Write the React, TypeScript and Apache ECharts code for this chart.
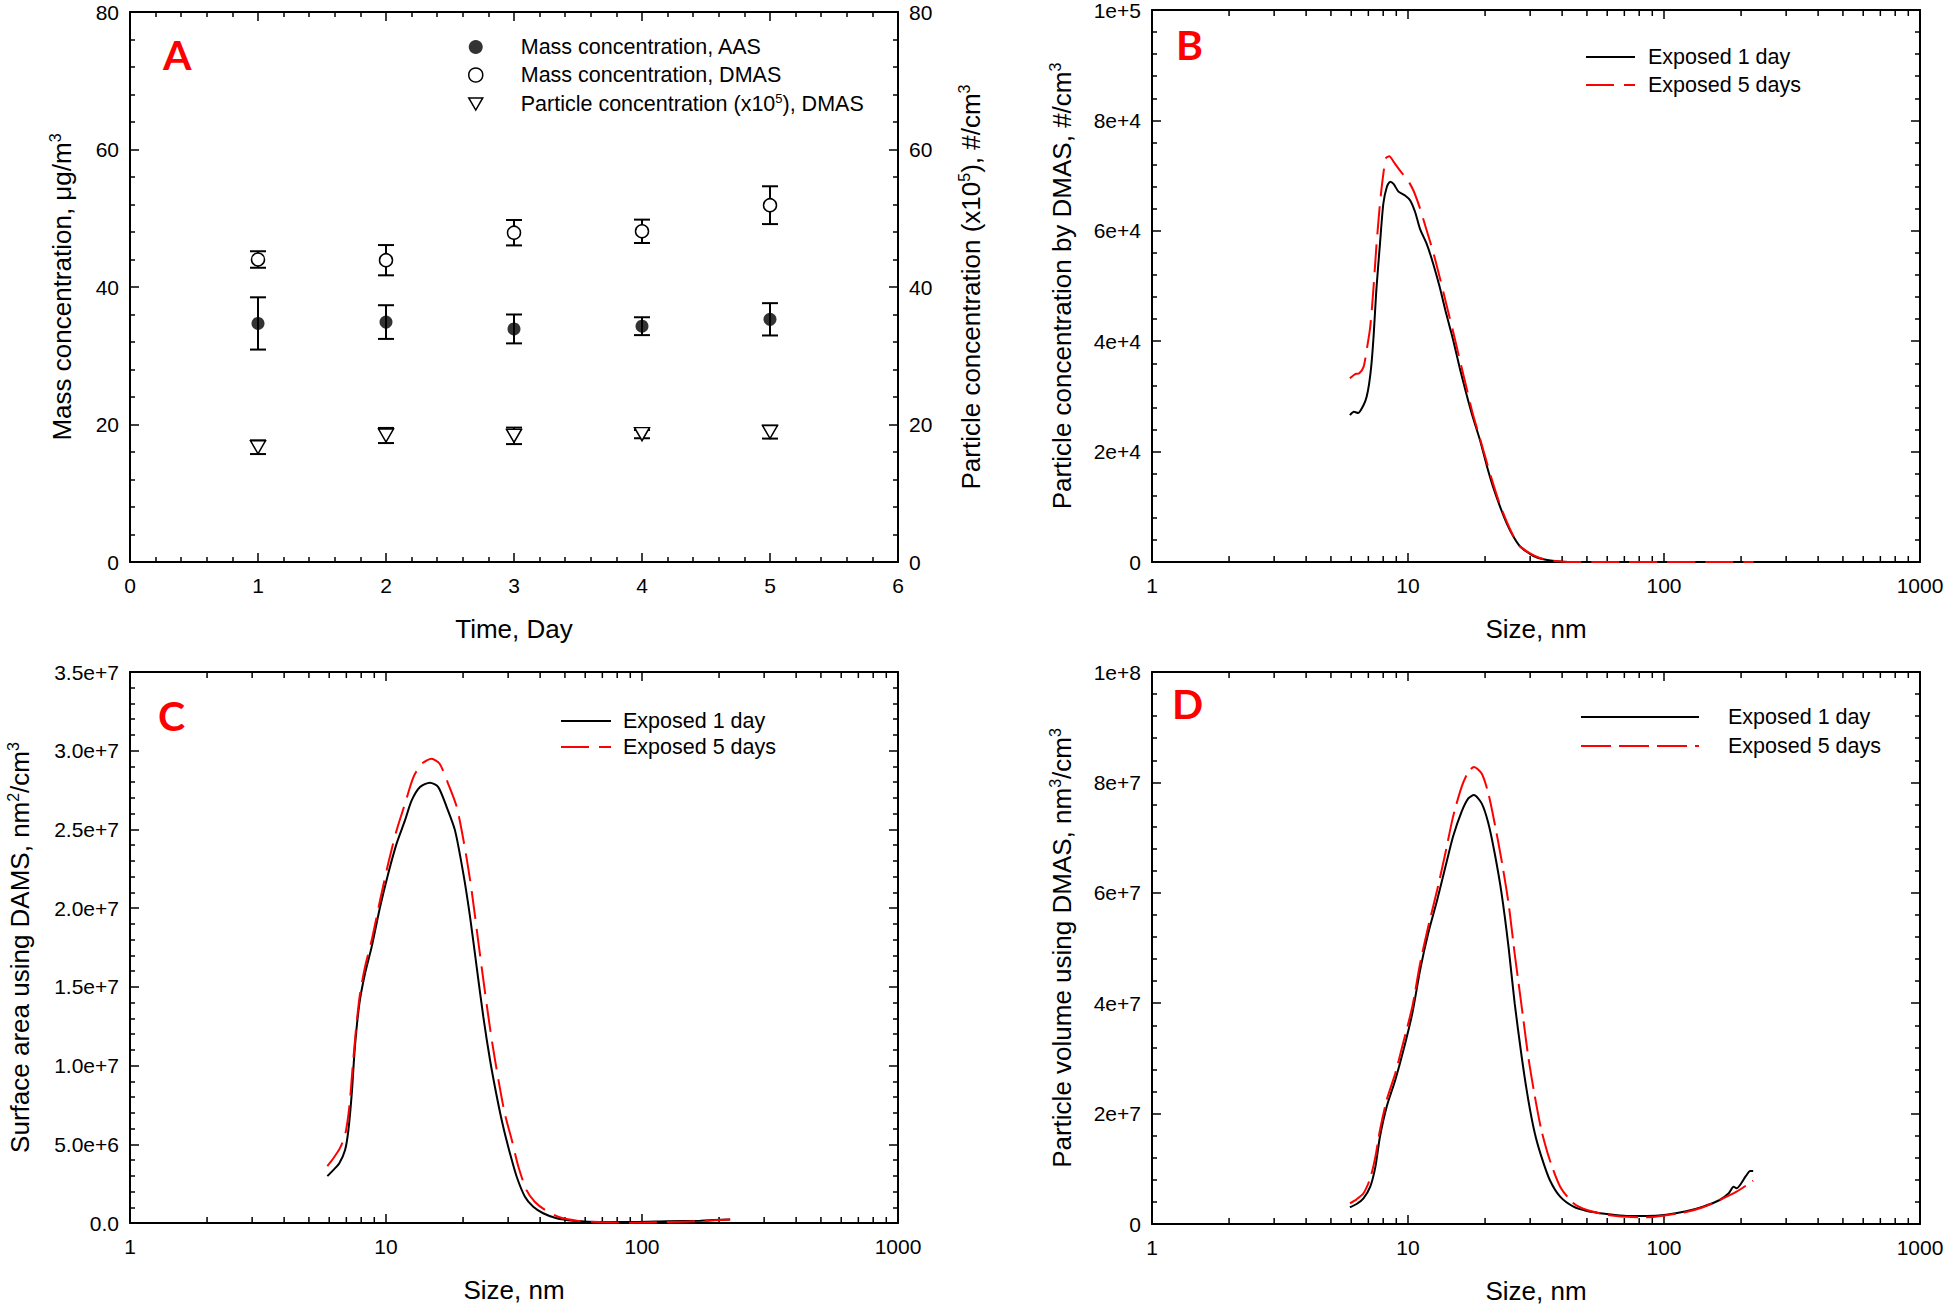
import React, { useEffect, useRef } from 'react';
import * as echarts from 'echarts';

// ---------------- Panel A data ----------------
const DAYS = [1, 2, 3, 4, 5];
const AAS_MASS = [34.7, 34.9, 33.9, 34.3, 35.3];
const AAS_MASS_ERR = [3.8, 2.45, 2.1, 1.3, 2.35];
const DMAS_MASS = [44.0, 43.9, 47.9, 48.1, 51.9];
const DMAS_MASS_ERR = [1.2, 2.2, 1.85, 1.7, 2.75];
const PARTICLE_CONC = [16.7, 18.4, 18.35, 18.6, 18.9];
const PARTICLE_CONC_ERR = [1.0, 1.1, 1.2, 0.6, 0.95];

// ---------------- Panel B data (size nm, #/cm3) ----------------
const B_DAY1: [number, number][] = [
  [5.93, 26600], [6.15, 27200], [6.39, 27000], [6.7, 28400], [6.89, 29900], [7.05, 32300], [7.2, 35900],
  [7.35, 41400], [7.52, 49200], [7.77, 57600], [8.01, 64900], [8.26, 67900], [8.52, 68900], [8.78, 68500],
  [9.18, 67100], [9.74, 66400], [10.2, 65500], [10.66, 63400], [11.15, 60300], [11.84, 57600], [12.55, 54000],
  [13.3, 49800], [14.1, 45000], [14.96, 40500], [15.9, 35300], [16.9, 30500], [17.9, 26300], [19.1, 22100],
  [20.3, 17500], [21.5, 13600], [22.9, 10000], [24.3, 7000], [25.8, 4600], [27.3, 2900], [29.1, 1860],
  [30.9, 1090], [33.8, 490], [38.0, 130], [42, 0], [60, 0], [100, 0], [150, 0], [224, 0],
];
const B_DAY5: [number, number][] = [
  [5.93, 33300], [6.2, 34000], [6.45, 34200], [6.7, 35300], [6.89, 38300], [7.12, 42600], [7.32, 49200],
  [7.52, 57000], [7.77, 64900], [8.01, 70300], [8.21, 73200], [8.45, 73500], [8.82, 72400], [9.31, 70900],
  [10.0, 69100], [10.5, 67300], [11.15, 64000], [11.84, 60000], [12.55, 56100], [13.3, 51600], [14.1, 46800],
  [14.96, 42000], [15.9, 36800], [16.9, 31700], [17.9, 26900], [19.1, 22400], [20.3, 18100], [21.5, 14200],
  [22.9, 10300], [24.3, 7300], [25.8, 4700], [27.3, 2900], [30, 1570], [32.7, 720], [36.9, 240], [40.6, 50],
  [44, 0], [60, 0], [100, 0], [150, 0], [224, 0],
];

// ---------------- Panel C data (size nm, nm2/cm3) ----------------
const C_DAY1: [number, number][] = [
  [5.9, 2.98e6], [6.22, 3.36e6], [6.57, 3.79e6], [6.92, 4.63e6], [7.13, 5.9e6], [7.35, 8.23e6], [7.56, 1.119e7],
  [7.87, 1.394e7], [8.28, 1.585e7], [8.79, 1.754e7], [9.48, 2.007e7], [10.2, 2.219e7], [11.0, 2.41e7],
  [11.86, 2.557e7], [12.6, 2.684e7], [13.58, 2.769e7], [14.85, 2.797e7], [16.0, 2.769e7], [17.26, 2.642e7],
  [18.6, 2.494e7], [20.05, 2.219e7], [21.3, 1.944e7], [22.6, 1.627e7], [24.0, 1.309e7], [25.5, 1.034e7],
  [27.1, 8.02e6], [28.7, 6.11e6], [30.5, 4.42e6], [32.4, 2.94e6], [34.9, 1.67e6], [37.6, 1.03e6], [41.1, 6.2e5],
  [46.4, 3.0e5], [53.9, 1.5e5], [68.5, 6e4], [92.5, 6e4], [125, 1.1e5], [169, 1.5e5], [221, 2.3e5],
];
const C_DAY5: [number, number][] = [
  [5.9, 3.62e6], [6.22, 4.1e6], [6.6, 4.74e6], [6.92, 5.58e6], [7.19, 7.38e6], [7.41, 9.92e6], [7.65, 1.246e7],
  [7.92, 1.458e7], [8.28, 1.627e7], [8.79, 1.796e7], [9.48, 2.05e7], [10.2, 2.283e7], [11.0, 2.494e7],
  [11.86, 2.663e7], [12.8, 2.832e7], [13.8, 2.917e7], [15.06, 2.949e7], [16.2, 2.917e7], [17.5, 2.79e7],
  [18.9, 2.642e7], [20.3, 2.388e7], [21.6, 2.113e7], [22.9, 1.796e7], [24.4, 1.458e7], [25.9, 1.161e7],
  [27.5, 9.08e6], [29.1, 6.96e6], [31.0, 5.27e6], [32.9, 3.57e6], [35.4, 2.09e6], [38.1, 1.35e6], [41.8, 8.3e5],
  [47.0, 4.0e5], [55.5, 1.5e5], [68.5, 6e4], [92.5, 2e4], [125, 6e4], [169, 1.2e5], [221, 2.3e5],
];

// ---------------- Panel D data (size nm, nm3/cm3) ----------------
const D_DAY1: [number, number][] = [
  [5.93, 3.03e6], [6.3, 3.62e6], [6.7, 4.65e6], [7.12, 6.76e6], [7.46, 1.04e7], [7.77, 1.58e7], [8.26, 2.13e7],
  [8.92, 2.61e7], [9.6, 3.15e7], [10.4, 3.82e7], [11.15, 4.6e7], [12.0, 5.27e7], [13.0, 5.87e7], [14.0, 6.47e7],
  [15.0, 7.02e7], [16.2, 7.47e7], [17.2, 7.71e7], [18.1, 7.77e7], [19.4, 7.62e7], [20.6, 7.26e7], [21.8, 6.72e7],
  [23.2, 5.99e7], [24.7, 5.02e7], [26.1, 4.0e7], [27.8, 3.03e7], [29.5, 2.25e7], [31.3, 1.64e7], [33.2, 1.22e7],
  [35.8, 7.97e6], [39.3, 4.95e6], [44.3, 3.14e6], [50.0, 2.36e6], [59.8, 1.81e6], [71.4, 1.45e6], [85.5, 1.45e6],
  [102, 1.68e6], [122, 2.3e6], [142, 3.14e6], [165, 4.35e6], [179, 5.56e6], [187, 6.76e6], [192, 6.46e6],
  [209, 8.7e6], [217, 9.6e6], [223, 9.6e6],
];
const D_DAY5: [number, number][] = [
  [5.93, 3.75e6], [6.3, 4.47e6], [6.7, 5.56e6], [7.12, 8.28e6], [7.46, 1.22e7], [7.77, 1.7e7], [8.26, 2.25e7],
  [8.92, 2.73e7], [9.6, 3.3e7], [10.4, 3.94e7], [11.15, 4.72e7], [12.0, 5.39e7], [13.0, 6.05e7], [14.0, 6.72e7],
  [15.0, 7.38e7], [16.2, 7.92e7], [17.2, 8.19e7], [18.1, 8.28e7], [19.4, 8.16e7], [20.6, 7.8e7], [21.8, 7.26e7],
  [23.2, 6.59e7], [24.7, 5.81e7], [26.1, 4.9e7], [27.8, 3.94e7], [29.5, 3.03e7], [31.3, 2.31e7], [33.2, 1.7e7],
  [35.8, 1.16e7], [39.3, 6.76e6], [44.3, 3.75e6], [50, 2.54e6], [59.8, 1.68e6], [71.4, 1.32e6], [85.5, 1.21e6],
  [102, 1.58e6], [122, 2.17e6], [142, 3.03e6], [165, 4.35e6], [192, 5.85e6], [223, 7.85e6],
];

// minor tick positions of the logarithmic size axes
const LOG_MINOR_TICKS = [2, 3, 4, 5, 6, 7, 8, 9, 20, 30, 40, 50, 60, 70, 80, 90, 200, 300, 400, 500, 600, 700, 800, 900];

const NAME_AAS = 'Mass concentration, AAS';
const NAME_DMAS = 'Mass concentration, DMAS';
const NAME_PART = 'Particle concentration (x10^5), DMAS';
const NAME_1D = 'Exposed 1 day';
const NAME_5D = 'Exposed 5 days';

const FONT = "'Liberation Sans', Arial, Helvetica, sans-serif";
const BLACK = '#000000';
const RED = '#ff0000';
const NAME_SIZE = 26;

const nameRich = {
  n: { fontSize: NAME_SIZE, fontFamily: FONT, color: BLACK, lineHeight: 30 },
  s: { fontSize: 16, fontFamily: FONT, color: BLACK, lineHeight: 16, verticalAlign: 'top' },
};

function axisCommon(labelFmt: any, showLabel: boolean, vertical: boolean) {
  const label: any = showLabel
    ? {
        show: true, margin: vertical ? 11 : 12, fontSize: 21, fontFamily: FONT, color: BLACK,
        lineHeight: vertical ? 16 : 22, formatter: labelFmt, showMinLabel: true, showMaxLabel: true,
      }
    : { show: false, showMinLabel: false, showMaxLabel: false };
  return {
    axisLine: { show: true, onZero: false, lineStyle: { color: BLACK, width: 2 } },
    axisTick: { show: true, inside: true, length: 9, lineStyle: { color: BLACK, width: 1.5 } },
    axisLabel: label,
    splitLine: { show: false },
  };
}

function valueAxis(gridIndex: number, position: string, min: number, max: number, interval: number,
  showLabel: boolean, fmt: any, name?: string, nameGap?: number) {
  const vertical = position === 'left' || position === 'right';
  const ax: any = {
    type: 'value', gridIndex, position, min, max, interval,
    ...axisCommon(fmt, showLabel, vertical),
    minorTick: { show: true, splitNumber: 5, length: 5, lineStyle: { color: BLACK, width: 1.5 } },
    minorSplitLine: { show: false },
  };
  if (name) {
    ax.name = name;
    ax.nameLocation = 'middle';
    ax.nameGap = nameGap;
    ax.nameRotate = vertical ? 90 : 0;
    ax.nameMoveOverlap = false;
    ax.nameTextStyle = { fontSize: NAME_SIZE, fontFamily: FONT, color: BLACK, lineHeight: 30, rich: nameRich };
  }
  return ax;
}

function logAxis(gridIndex: number, position: string, showLabel: boolean, name?: string) {
  const ax: any = {
    type: 'log', logBase: 10, gridIndex, position, min: 1, max: 1000,
    ...axisCommon((v: number) => String(Math.round(v)), showLabel, false),
    minorTick: { show: false },
  };
  if (name) {
    ax.name = name;
    ax.nameLocation = 'middle';
    ax.nameGap = 52;
    ax.nameMoveOverlap = false;
    ax.nameTextStyle = { fontSize: NAME_SIZE, fontFamily: FONT, color: BLACK, lineHeight: 30 };
  }
  return ax;
}

const expFmt0 = (v: number) => (v === 0 ? '0' : v.toExponential(0));
const expFmt1 = (v: number) => (v === 0 ? '0.0' : v.toExponential(1));
const intFmt = (v: number) => String(Math.round(v));

function errorBarSeries(name: string, yAxisIndex: number, means: number[], errs: number[]) {
  return {
    type: 'custom', name, xAxisIndex: 0, yAxisIndex, silent: true, z: 2,
    data: DAYS.map((d, i) => [d, means[i] - errs[i], means[i] + errs[i]]),
    encode: { x: 0, y: [1, 2] },
    renderItem: (params: any, api: any) => {
      const x = api.value(0);
      const lo = api.coord([x, api.value(1)]);
      const hi = api.coord([x, api.value(2)]);
      const hw = 8;
      const style = { stroke: BLACK, lineWidth: 2, fill: 'none' };
      return {
        type: 'group',
        children: [
          { type: 'line', shape: { x1: lo[0], y1: lo[1], x2: hi[0], y2: hi[1] }, style },
          { type: 'line', shape: { x1: lo[0] - hw, y1: lo[1], x2: lo[0] + hw, y2: lo[1] }, style },
          { type: 'line', shape: { x1: hi[0] - hw, y1: hi[1], x2: hi[0] + hw, y2: hi[1] }, style },
        ],
      };
    },
  };
}

function minorTickSeries(axisIndex: number) {
  return {
    type: 'custom', name: 'minor-ticks-' + axisIndex, xAxisIndex: axisIndex, yAxisIndex: axisIndex,
    silent: true, z: 3,
    data: LOG_MINOR_TICKS.map((v) => [v, 0]),
    encode: { x: 0, y: 1 },
    renderItem: (params: any, api: any) => {
      const cs = params.coordSys;
      const x = api.coord([api.value(0), 0])[0];
      const b = cs.y + cs.height;
      const t = cs.y;
      const style = { stroke: BLACK, lineWidth: 1.5 };
      return {
        type: 'group',
        children: [
          { type: 'line', shape: { x1: x, y1: b, x2: x, y2: b - 6 }, style },
          { type: 'line', shape: { x1: x, y1: t, x2: x, y2: t + 6 }, style },
        ],
      };
    },
  };
}

function sizeLines(axisIndex: number, d1: [number, number][], d5: [number, number][], dash: number[]) {
  return [
    {
      type: 'line', name: NAME_1D, xAxisIndex: axisIndex, yAxisIndex: axisIndex, data: d1,
      symbol: 'none', showSymbol: false, smooth: 0.25, z: 4,
      lineStyle: { color: BLACK, width: 2 }, itemStyle: { color: BLACK },
    },
    {
      type: 'line', name: NAME_5D, xAxisIndex: axisIndex, yAxisIndex: axisIndex, data: d5,
      symbol: 'none', showSymbol: false, smooth: 0.25, z: 5,
      lineStyle: { color: RED, width: 2, type: dash }, itemStyle: { color: RED },
    },
  ];
}

const TRIANGLE = 'path://M0,0 L12,0 L6,10.4 Z';

function lineLegend(left: number, top: number, itemWidth: number, gap: number, textPad: number, dash: number[]) {
  return {
    orient: 'vertical', left, top, padding: 0, itemWidth, itemHeight: 14, itemGap: gap,
    selectedMode: false,
    itemStyle: { opacity: 0, borderWidth: 0 },
    data: [
      { name: NAME_1D, lineStyle: { color: BLACK, width: 2, opacity: 1 }, itemStyle: { opacity: 0 } },
      { name: NAME_5D, lineStyle: { color: RED, width: 2, type: dash, opacity: 1 }, itemStyle: { opacity: 0 } },
    ],
    textStyle: { fontSize: 21.5, fontFamily: FONT, color: BLACK, lineHeight: 24, padding: [0, 0, 0, textPad] },
  };
}

function letter(text: string, left: number, top: number) {
  return {
    text, left, top, padding: 0,
    textStyle: { fontSize: 41, fontWeight: 'bold', fontFamily: "Lato, 'Open Sans', sans-serif", color: RED },
  };
}

export default function App() {
  const ref = useRef<HTMLDivElement>(null);

  useEffect(() => {
    if (!ref.current) return;
    const chart = echarts.init(ref.current, null, { renderer: 'svg' });

    const option: any = {
      animation: false,
      backgroundColor: '#ffffff',
      title: [
        letter('A', 163, 34),
        letter('B', 1176, 24),
        letter('C', 158, 695),
        letter('D', 1172, 683),
      ],
      grid: [
        { left: 130, top: 12, width: 768, height: 550, outerBoundsMode: 'none' },
        { left: 1152, top: 10, width: 768, height: 552, outerBoundsMode: 'none' },
        { left: 130, top: 672, width: 768, height: 551, outerBoundsMode: 'none' },
        { left: 1152, top: 672, width: 768, height: 552, outerBoundsMode: 'none' },
      ],
      xAxis: [
        { ...valueAxis(0, 'bottom', 0, 6, 1, true, intFmt), name: 'Time, Day', nameLocation: 'middle', nameGap: 52,
          nameMoveOverlap: false, nameTextStyle: { fontSize: NAME_SIZE, fontFamily: FONT, color: BLACK, lineHeight: 30 } },
        valueAxis(0, 'top', 0, 6, 1, false, intFmt),
        logAxis(1, 'bottom', true, 'Size, nm'),
        logAxis(1, 'top', false),
        logAxis(2, 'bottom', true, 'Size, nm'),
        logAxis(2, 'top', false),
        logAxis(3, 'bottom', true, 'Size, nm'),
        logAxis(3, 'top', false),
      ],
      yAxis: [
        valueAxis(0, 'left', 0, 80, 20, true, intFmt, '{n|Mass concentration, μg/m}{s|3}', 53),
        valueAxis(0, 'right', 0, 80, 20, true, intFmt, '{n|Particle concentration (x10}{s|5}{n|), #/cm}{s|3}', 58),
        valueAxis(1, 'left', 0, 100000, 20000, true, expFmt0, '{n|Particle concentration by DMAS, #/cm}{s|3}', 75),
        valueAxis(1, 'right', 0, 100000, 20000, false, expFmt0),
        valueAxis(2, 'left', 0, 3.5e7, 5e6, true, expFmt1, '{n|Surface area using DAMS, nm}{s|2}{n|/cm}{s|3}', 95),
        valueAxis(2, 'right', 0, 3.5e7, 5e6, false, expFmt1),
        valueAxis(3, 'left', 0, 1e8, 2e7, true, expFmt0, '{n|Particle volume using DMAS, nm}{s|3}{n|/cm}{s|3}', 75),
        valueAxis(3, 'right', 0, 1e8, 2e7, false, expFmt0),
      ],
      legend: [
        {
          orient: 'vertical', left: 468, top: 36, padding: 0, itemWidth: 14, itemHeight: 14, itemGap: 6,
          selectedMode: false,
          data: [
            { name: NAME_AAS, icon: 'circle', itemStyle: { color: BLACK } },
            { name: NAME_DMAS, icon: 'circle', itemStyle: { color: '#ffffff', borderColor: BLACK, borderWidth: 1.5 } },
            { name: NAME_PART, icon: TRIANGLE, itemStyle: { color: '#ffffff', borderColor: BLACK, borderWidth: 1.5 } },
          ],
          formatter: (name: string) =>
            name === NAME_PART ? '{n|Particle concentration (x10}{s|5}{n|), DMAS}' : '{n|' + name + '}',
          textStyle: {
            fontSize: 21.5, fontFamily: FONT, color: BLACK, padding: [0, 0, 0, 33],
            rich: {
              n: { fontSize: 21.5, fontFamily: FONT, color: BLACK, lineHeight: 24 },
              s: { fontSize: 13, fontFamily: FONT, color: BLACK, lineHeight: 13, verticalAlign: 'top' },
            },
          },
        },
        lineLegend(1585, 45, 49, 4, 8, [28, 10]),
        lineLegend(560, 709, 50, 2, 7, [28, 10]),
        lineLegend(1580, 705, 118, 5, 24, [30, 8]),
      ],
      series: [
        errorBarSeries('err-aas', 0, AAS_MASS, AAS_MASS_ERR),
        errorBarSeries('err-dmas', 0, DMAS_MASS, DMAS_MASS_ERR),
        errorBarSeries('err-part', 1, PARTICLE_CONC, PARTICLE_CONC_ERR),
        {
          type: 'scatter', name: NAME_AAS, xAxisIndex: 0, yAxisIndex: 0, z: 4,
          data: DAYS.map((d, i) => [d, AAS_MASS[i]]),
          symbol: 'circle', symbolSize: 13, itemStyle: { color: BLACK },
        },
        {
          type: 'scatter', name: NAME_DMAS, xAxisIndex: 0, yAxisIndex: 0, z: 4,
          data: DAYS.map((d, i) => [d, DMAS_MASS[i]]),
          symbol: 'circle', symbolSize: 13, itemStyle: { color: '#ffffff', borderColor: BLACK, borderWidth: 1.5, opacity: 1 },
        },
        {
          type: 'scatter', name: NAME_PART, xAxisIndex: 0, yAxisIndex: 1, z: 4,
          data: DAYS.map((d, i) => [d, PARTICLE_CONC[i]]),
          symbol: TRIANGLE, symbolSize: [15, 13], itemStyle: { color: '#ffffff', borderColor: BLACK, borderWidth: 1.5, opacity: 1 },
        },
        minorTickSeries(2),
        minorTickSeries(4),
        minorTickSeries(6),
        ...sizeLines(2, B_DAY1, B_DAY5, [28, 10]),
        ...sizeLines(4, C_DAY1, C_DAY5, [28, 10]),
        ...sizeLines(6, D_DAY1, D_DAY5, [30, 8]),
      ],
    };

    chart.setOption(option);
    return () => chart.dispose();
  }, []);

  return (
    <div
      ref={ref}
      style={{ position: 'absolute', left: 0, top: 0, width: 1946, height: 1307, background: '#fff' }}
    />
  );
}
